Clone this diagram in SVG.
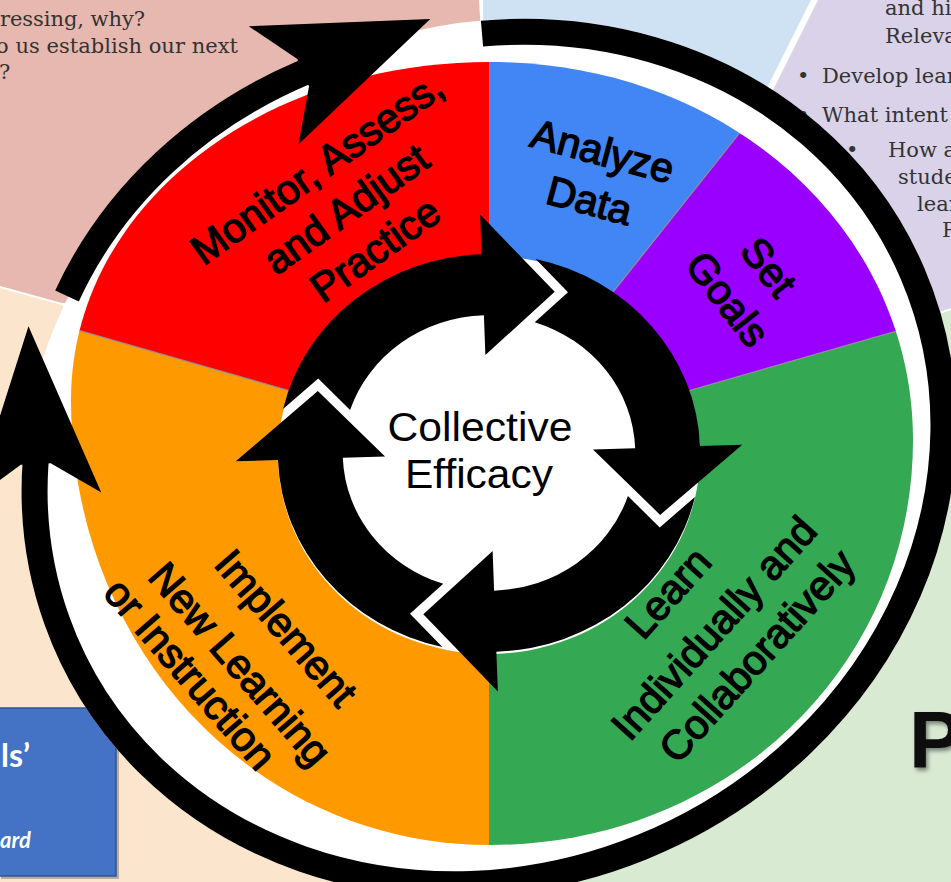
<svg xmlns="http://www.w3.org/2000/svg" width="951" height="882" viewBox="0 0 951 882">
<defs>
<style>
.lbl{font-family:"Liberation Sans",Arial,sans-serif;font-size:41px;fill:#000;stroke:#000;stroke-width:1.4;text-anchor:middle;dominant-baseline:central}
.ce{font-family:"Liberation Sans",Arial,sans-serif;font-size:40px;fill:#000;text-anchor:middle}
.ser{font-family:"DejaVu Serif","Liberation Serif",serif;font-size:21px;fill:#333}
.ring{fill:none;stroke:#000;stroke-width:26}
.sep{stroke:#8f8f8f;stroke-width:1.2;fill:none}
</style>
<filter id="shadow" x="-20%" y="-20%" width="150%" height="150%"><feDropShadow dx="2" dy="3" stdDeviation="2" flood-color="#000" flood-opacity="0.45"/></filter>
<clipPath id="disk"><path d="M490,62 C726.9,62 913,228.3 913,440 C913,666.8 726.9,845 490,845 C255.4,845 71,649.2 71,400 C71,210.7 255.4,62 490,62 Z"/></clipPath>
<path id="arr" d="M-200.7,-41.79 A205,205 0 0 1 -10.73,-204.72 L-12.88,-245.66 L60.88,-167.26 L-5.29,-100.86 L-7.43,-141.81 A142,142 0 0 0 -135.63,-42.06 L-167.1,-73.8 Z"/>
<path id="head" d="M-2,-15 L-34,-64 L136,0 L-34,64 L-2,15 Z"/>
</defs>

<g id="background">
<rect width="951" height="882" fill="#fff"/>
<polygon fill="#E6B8AF" points="0,0 479,0 486,120 300,300 62,303 0,286"/>
<polygon fill="#CFE2F3" points="483,0 811,0 761,100 700,180 483,180"/>
<polygon fill="#D9D2E9" points="818,0 951,0 951,308 905,324 768,100"/>
<polygon fill="#D9EAD3" points="905,326 951,310 951,882 490,882 490,600"/>
<polygon fill="#FCE5CD" points="0,288 62,305 300,600 490,600 490,882 0,882"/>
<text class="ser" x="0" y="26" textLength="145">ressing, why?</text>
<text class="ser" x="-4" y="53" textLength="242">o us establish our next</text>
<text class="ser" x="-1" y="79">?</text>
<text class="ser" x="885" y="15">and hi</text>
<text class="ser" x="885" y="43">Releva</text>
<text class="ser" y="83"><tspan x="797">•</tspan><tspan x="822">Develop lear</tspan></text>
<text class="ser" y="122"><tspan x="797">•</tspan><tspan x="822">What intent</tspan></text>
<text class="ser" y="157"><tspan x="846">•</tspan><tspan x="888">How a</tspan></text>
<text class="ser" x="898" y="184">stude</text>
<text class="ser" x="917" y="211">lear</text>
<text class="ser" x="942" y="237">P</text>
<text x="909" y="767" font-family="Liberation Sans,Arial,sans-serif" font-weight="bold" font-size="80" fill="#111" filter="url(#shadow)">P</text>
<rect x="1" y="711" width="118" height="168" fill="#7f7f7f" opacity="0.55"/>
<rect x="-2" y="708" width="118" height="168" fill="#4472C4" stroke="#2F528F" stroke-width="1.5"/>
<text x="1" y="767" font-family="Lato,'Open Sans',sans-serif" font-weight="bold" font-size="32" fill="#fff">ls’</text>
<text x="0" y="848" font-family="Lato,'Open Sans',sans-serif" font-weight="bold" font-style="italic" font-size="22" fill="#fff">ard</text>
</g>

<ellipse id="ring-backing" cx="489" cy="458" rx="475" ry="431" transform="rotate(-25 489 458)" fill="#fff"/>

<g id="node-monitor">
<polygon clip-path="url(#disk)" fill="#FF0000" points="489,448 -184,255 -184,-252 489,-252"/>
<g transform="translate(346,209) rotate(-35.5)">
<text class="lbl" y="-50">Monitor, Assess,</text>
<text class="lbl" y="0">and Adjust</text>
<text class="lbl" y="50">Practice</text>
</g>
</g>
<g id="node-analyze">
<polygon clip-path="url(#disk)" fill="#4285F4" points="489,448 489,-252 925,-100"/>
<g transform="translate(596,176) rotate(15)">
<text class="lbl" y="-25.5">Analyze</text>
<text class="lbl" y="25.5">Data</text>
</g>
</g>
<g id="node-goals">
<polygon clip-path="url(#disk)" fill="#9900FF" points="489,448 925,-100 1162,255"/>
<g transform="translate(748,283) rotate(52)">
<text class="lbl" y="-26">Set</text>
<text class="lbl" y="26">Goals</text>
</g>
</g>
<g id="node-learn">
<polygon clip-path="url(#disk)" fill="#34A853" points="489,448 1162,255 1162,1148 489,1148"/>
<text class="lbl" transform="translate(668,593) rotate(-48)">Learn</text>
<text class="lbl" transform="translate(714,628) rotate(-48)">Individually and</text>
<text class="lbl" transform="translate(757,656) rotate(-48)">Collaboratively</text>
</g>
<g id="node-implement">
<polygon clip-path="url(#disk)" fill="#FF9900" points="489,448 489,1148 -184,1148 -184,255"/>
<text class="lbl" transform="translate(286,628) rotate(49)">Implement</text>
<text class="lbl" transform="translate(240,664) rotate(49)">New Learning</text>
<text class="lbl" transform="translate(190,674) rotate(49)">or Instruction</text>
</g>
<g id="separators" clip-path="url(#disk)">
<line class="sep" x1="489" y1="448" x2="-184" y2="255"/>
<line class="sep" x1="489" y1="448" x2="925" y2="-100"/>
<line class="sep" x1="489" y1="448" x2="1162" y2="255"/>
</g>

<g id="node-center">
<ellipse cx="489" cy="455" rx="211" ry="199" fill="#fff"/>
<text class="ce" x="480" y="441" textLength="185" lengthAdjust="spacingAndGlyphs">Collective</text>
<text class="ce" x="479" y="488" textLength="148" lengthAdjust="spacingAndGlyphs">Efficacy</text>
</g>

<g id="connectors">
<g id="inner-cycle" transform="translate(489,453) scale(1.03,0.97)">
<use href="#arr" transform="rotate(1)"/>
<use href="#arr" transform="rotate(91)"/>
<use href="#arr" transform="rotate(181)"/>
<use href="#arr" transform="rotate(271)"/>
</g>
<g id="outer-cycle">
<path class="ring" d="M482,33.6 A462,418 -25 1 1 35.6,462"/>
<use href="#head" transform="translate(35.6,462) rotate(-93)"/>
<path class="ring" stroke-width="27" d="M67,296 C114.3,193.4 201.2,115.8 305,72"/>
<use href="#head" transform="translate(305,72) rotate(-22.9)"/>
</g>
</g>
</svg>
